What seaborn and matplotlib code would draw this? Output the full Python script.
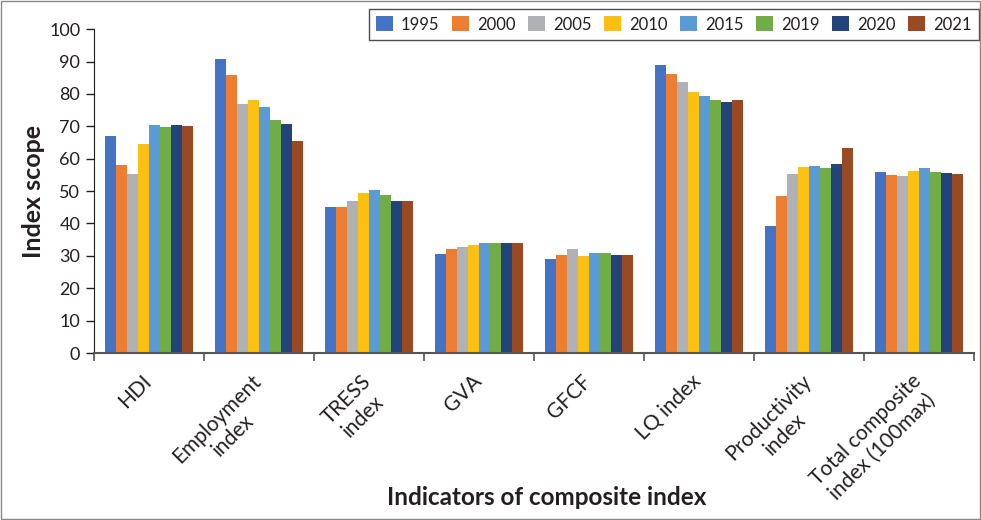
import pandas as pd
import numpy as np
import matplotlib
matplotlib.use('Agg')
import matplotlib.pyplot as plt
import matplotlib.transforms as mtransforms
import seaborn as sns
from matplotlib.patches import Rectangle

# data
indicators = ['HDI', 'Employment\nindex', 'TRESS\nindex', 'GVA', 'GFCF', 'LQ index',
              'Productivity\nindex', 'Total composite\nindex (100max)']
years = ['1995', '2000', '2005', '2010', '2015', '2019', '2020', '2021']

hdi = [67.0, 58.0, 55.2, 64.5, 70.4, 69.8, 70.4, 70.1]
employment = [90.7, 85.8, 76.9, 78.1, 75.9, 71.9, 70.7, 65.4]
tress = [45.1, 45.1, 46.9, 49.4, 50.3, 48.8, 46.9, 46.9]
gva = [30.6, 32.1, 32.7, 33.3, 33.9, 33.9, 33.9, 33.9]
gfcf = [29.0, 30.2, 32.1, 29.9, 30.9, 30.9, 30.2, 30.2]
lq = [88.9, 86.1, 83.6, 80.6, 79.3, 78.1, 77.5, 78.1]
productivity = [39.2, 48.5, 55.2, 57.4, 57.7, 57.1, 58.3, 63.3]
total = [55.9, 54.9, 54.6, 56.2, 57.1, 55.9, 55.6, 55.2]

colors = ['#4472C4', '#ED7D31', '#B0B1B4', '#FCC010', '#5B9BD5', '#70AD47', '#22447A', '#9A4A22']

values = [hdi, employment, tress, gva, gfcf, lq, productivity, total]
rows = []
for ind, vals in zip(indicators, values):
    for yr, v in zip(years, vals):
        rows.append({'indicator': ind, 'year': yr, 'value': v})
df = pd.DataFrame(rows)

sns.set_style('white')
plt.rcParams['font.family'] = ['Lato', 'DejaVu Sans']
plt.rcParams['text.color'] = '#231f20'
plt.rcParams['axes.labelcolor'] = '#231f20'
plt.rcParams['xtick.color'] = '#231f20'
plt.rcParams['ytick.color'] = '#231f20'

fig = plt.figure(figsize=(9.81, 5.20), dpi=100)
ax = fig.add_axes([0.096, 0.321, 0.897, 0.623])

sns.barplot(data=df, x='indicator', y='value', hue='year', order=indicators,
            hue_order=years, palette=colors, saturation=1, width=0.8, ax=ax,
            errorbar=None, linewidth=0)

ax.set_ylim(0, 100)
ax.set_xlim(-0.5, len(indicators) - 0.5)
ax.set_yticks(range(0, 101, 10))
ax.tick_params(axis='y', labelsize=13, direction='out', length=6, width=1, left=True, pad=4)
ax.tick_params(axis='x', which='major', length=0, pad=13)
ax.set_xticks(np.arange(-0.5, len(indicators)), minor=True)
ax.tick_params(axis='x', which='minor', direction='out', length=6, width=1.2,
               bottom=True, color='#555555')
shift = mtransforms.ScaledTranslation(-8 / 100, 0, fig.dpi_scale_trans)
for lab in ax.get_xticklabels():
    lab.set_fontsize(15)
    lab.set_rotation(45)
    lab.set_ha('right')
    lab.set_va('top')
    lab.set_rotation_mode('anchor')
    lab.set_multialignment('center')
    lab.set_transform(lab.get_transform() + shift)

for side in ['top', 'right']:
    ax.spines[side].set_visible(False)
ax.spines['left'].set_color('#231f20')
ax.spines['bottom'].set_color('#555555')
ax.spines['bottom'].set_linewidth(1.5)

ax.set_ylabel('Index scope', fontsize=18, fontweight='bold', labelpad=3)
ax.set_xlabel('')
fig.text(0.557, 0.043, 'Indicators of composite index', fontsize=17.5,
         fontweight='bold', ha='center', va='center')

handles, labels = ax.get_legend_handles_labels()
ax.legend(handles, labels, ncol=8, loc='upper right',
          bbox_to_anchor=(0.998, 0.983), bbox_transform=fig.transFigure,
          frameon=True, fancybox=False, edgecolor='#231f20', fontsize=12,
          handlelength=1.0, handleheight=1.0, handletextpad=0.5,
          columnspacing=0.75, borderpad=0.45, borderaxespad=0)
ax.get_legend().get_frame().set_linewidth(1)

# outer frame around whole figure
fig.patches.append(Rectangle((0.001, 0.001), 0.998, 0.997, transform=fig.transFigure,
                             fill=False, edgecolor='#888888', linewidth=1))

fig.savefig('out.png', dpi=100)
